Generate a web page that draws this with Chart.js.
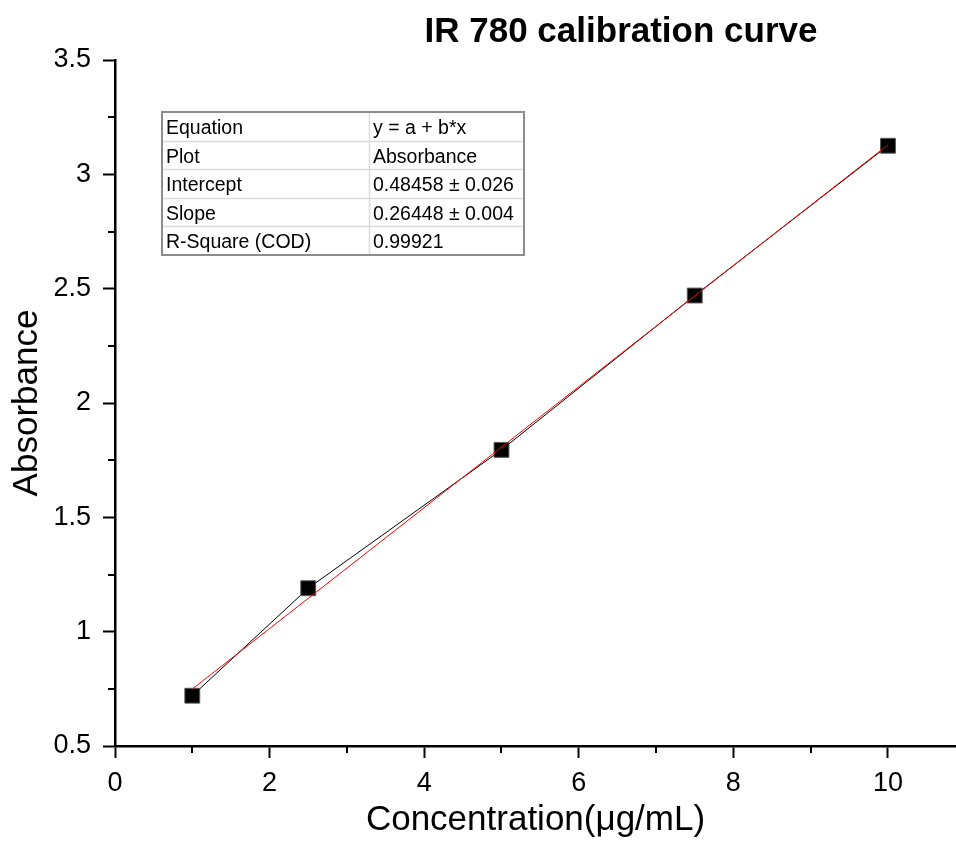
<!DOCTYPE html>
<html>
<head>
<meta charset="utf-8">
<title>IR 780 calibration curve</title>
<script src="https://cdn.jsdelivr.net/npm/chart.js@4.4.1/dist/chart.umd.min.js"></script>
<style>
    html, body { margin: 0; padding: 0; background: #ffffff; }
    #wrap { width: 956px; height: 846px; }
</style>
</head>
<body>
<div id="wrap"><canvas id="calChart" width="956" height="846"></canvas></div>
<script>
// Measured points
const concentration = [1, 2.5, 5, 7.5, 10];
const absorbance = [0.72, 1.19, 1.795, 2.47, 3.125];

// Linear fit endpoints (y = a + b*x)
const fitX = [1, 10];
const fitY = [0.749, 3.129];

// Axis ticks
const xTicks = [0, 2, 4, 6, 8, 10];
const xMinorTicks = [1, 3, 5, 7, 9];
const yTicks = [0.5, 1, 1.5, 2, 2.5, 3, 3.5];
const yMinorTicks = [0.75, 1.25, 1.75, 2.25, 2.75, 3.25];

// Fit results table
const tableLabels = ['Equation', 'Plot', 'Intercept', 'Slope', 'R-Square (COD)'];
const tableValues = ['y = a + b*x', 'Absorbance', '0.48458 \u00b1 0.026', '0.26448 \u00b1 0.004', '0.99921'];

const FONT = '"Liberation Sans", Arial, sans-serif';

// Minor ticks, title and fit table, drawn on top of the chart
const extrasPlugin = {
    id: 'extras',
    afterDraw(chart) {
        const ctx = chart.ctx;
        const x = chart.scales.x;
        const y = chart.scales.y;
        const area = chart.chartArea;

        ctx.save();
        ctx.strokeStyle = '#000';
        ctx.lineWidth = 2;
        ctx.beginPath();
        xMinorTicks.forEach(v => {
            const px = Math.round(x.getPixelForValue(v));
            ctx.moveTo(px, area.bottom);
            ctx.lineTo(px, area.bottom + 7);
        });
        yMinorTicks.forEach(v => {
            const py = Math.round(y.getPixelForValue(v));
            ctx.moveTo(area.left, py);
            ctx.lineTo(area.left - 7, py);
        });
        ctx.stroke();

        // Title
        ctx.fillStyle = '#000';
        ctx.font = 'bold 35px ' + FONT;
        ctx.textAlign = 'center';
        ctx.textBaseline = 'alphabetic';
        ctx.fillText('IR 780 calibration curve', 621, 42);

        // Table
        const tx = 162, ty = 112, tw = 362, rowH = 28.6, colX = 369;
        const th = rowH * tableLabels.length;
        ctx.fillStyle = '#fff';
        ctx.fillRect(tx, ty, tw, th);
        ctx.strokeStyle = '#dcdcdc';
        ctx.lineWidth = 1.5;
        ctx.beginPath();
        for (let i = 1; i < tableLabels.length; i++) {
            const ly = Math.round(ty + rowH * i) + 0.5;
            ctx.moveTo(tx, ly);
            ctx.lineTo(tx + tw, ly);
        }
        ctx.moveTo(colX + 0.5, ty);
        ctx.lineTo(colX + 0.5, ty + th);
        ctx.stroke();
        ctx.strokeStyle = '#8c8c8c';
        ctx.lineWidth = 2;
        ctx.strokeRect(tx, ty, tw, th);

        ctx.fillStyle = '#000';
        ctx.font = '19.5px ' + FONT;
        ctx.textAlign = 'left';
        tableLabels.forEach((lab, i) => {
            const by = ty + rowH * i + 22;
            ctx.fillText(lab, tx + 4, by);
            ctx.fillText(tableValues[i], colX + 4, by);
        });
        ctx.restore();
    }
};

new Chart(document.getElementById('calChart'), {
    type: 'scatter',
    data: {
        datasets: [
            {
                label: 'Absorbance',
                data: concentration.map((c, i) => ({ x: c, y: absorbance[i] })),
                showLine: true,
                borderColor: '#000',
                borderWidth: 1,
                pointStyle: 'rect',
                pointRadius: 10.5,
                pointBackgroundColor: '#000',
                pointBorderColor: '#555',
                pointBorderWidth: 1,
                order: 2
            },
            {
                label: 'Linear fit',
                data: fitX.map((c, i) => ({ x: c, y: fitY[i] })),
                showLine: true,
                borderColor: '#ff0000',
                borderWidth: 1,
                pointRadius: 0,
                order: 1
            }
        ]
    },
    options: {
        responsive: false,
        animation: false,
        layout: {
            autoPadding: false,
            padding: { top: 60, right: 0, left: 0, bottom: 0 }
        },
        plugins: {
            legend: { display: false },
            tooltip: { enabled: false },
            title: { display: false }
        },
        scales: {
            x: {
                type: 'linear',
                min: 0,
                max: 10.88,
                afterBuildTicks(axis) {
                    axis.ticks = xTicks.map(v => ({ value: v }));
                },
                afterFit(axis) {
                    axis.height = 100;
                    axis.paddingRight = 0;
                    axis.paddingLeft = 0;
                },
                border: { display: true, color: '#000', width: 2.5 },
                grid: {
                    drawOnChartArea: false,
                    drawTicks: true,
                    tickLength: 12,
                    tickWidth: 2,
                    tickColor: '#000'
                },
                ticks: {
                    color: '#000',
                    padding: 9,
                    font: { family: FONT, size: 27 },
                    callback: v => String(v)
                },
                title: {
                    display: true,
                    text: 'Concentration(\u03bcg/mL)',
                    color: '#000',
                    font: { family: FONT, size: 35 },
                    padding: { top: 0, bottom: 5 }
                }
            },
            y: {
                type: 'linear',
                min: 0.5,
                max: 3.5,
                afterBuildTicks(axis) {
                    axis.ticks = yTicks.map(v => ({ value: v }));
                },
                afterFit(axis) {
                    axis.width = 115;
                },
                border: { display: true, color: '#000', width: 2.5 },
                grid: {
                    drawOnChartArea: false,
                    drawTicks: true,
                    tickLength: 12,
                    tickWidth: 2,
                    tickColor: '#000'
                },
                ticks: {
                    color: '#000',
                    padding: 12,
                    font: { family: FONT, size: 27 },
                    callback: v => String(Number(v.toFixed(2)))
                },
                title: {
                    display: true,
                    text: 'Absorbance',
                    color: '#000',
                    font: { family: FONT, size: 35 },
                    padding: { top: 6, bottom: 0 }
                }
            }
        }
    },
    plugins: [extrasPlugin]
});
</script>
</body>
</html>
